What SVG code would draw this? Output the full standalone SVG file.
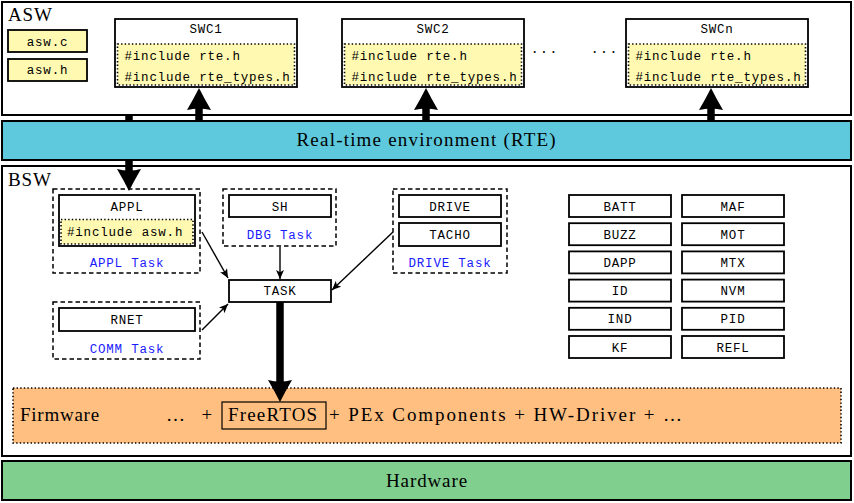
<svg xmlns="http://www.w3.org/2000/svg" width="854" height="503" viewBox="0 0 854 503">
<style>
.layer{stroke:#000;stroke-width:2}
.box{fill:#fff;stroke:#000;stroke-width:1.8}
.file{fill:#fff9b2;stroke:#000;stroke-width:1.8}
.dot{fill:#fff9b2;stroke:#000;stroke-width:1.6;stroke-dasharray:1.4 2.2}
.dash{fill:none;stroke:#000;stroke-width:1.5;stroke-dasharray:4.5 3}
.mono{font-family:"Liberation Mono","DejaVu Sans Mono",monospace;font-size:12.5px;letter-spacing:0.8px;fill:#000}
.mid{text-anchor:middle}
.task{fill:#1a1aff}
.serif{font-family:"Liberation Serif","DejaVu Serif",serif;font-size:19px;letter-spacing:0.9px;fill:#000}
.big{stroke:#000;stroke-width:7.5;fill:none}
.thin{stroke:#000;stroke-width:1.4;fill:none}
</style>
<defs>
<marker id="bighead" markerUnits="userSpaceOnUse" viewBox="0 0 22 24" markerWidth="22" markerHeight="24" refX="4" refY="12" orient="auto">
<path d="M0,0 Q12,7 22,12 Q12,17 0,24 Q3,12 0,0 Z" fill="#000"/>
</marker>
<marker id="smallhead" markerUnits="userSpaceOnUse" viewBox="0 0 9 8" markerWidth="9" markerHeight="8" refX="9" refY="4" orient="auto">
<path d="M0,0 L9,4 L0,8 L2.2,4 Z" fill="#000"/>
</marker>
</defs>

<g id="asw">
<rect class="layer" x="2" y="2" width="849" height="113" fill="#fff"/>
<text class="serif" x="8" y="21">ASW</text>
</g>
<g id="asw-c">
<rect class="file" x="8" y="30" width="79" height="22"/>
<text class="mono mid" x="47.5" y="46">asw.c</text>
</g>
<g id="asw-h">
<rect class="file" x="8" y="59" width="79" height="22"/>
<text class="mono mid" x="47.5" y="74">asw.h</text>
</g>
<g id="swc1">
<rect class="box" x="115" y="19" width="182" height="68"/>
<text class="mono mid" x="206" y="33">SWC1</text>
<rect class="dot" x="117.5" y="44" width="177" height="41"/>
<text class="mono" x="124.5" y="59.5">#include rte.h</text>
<text class="mono" x="124.5" y="81">#include rte_types.h</text>
</g>
<g id="swc2">
<rect class="box" x="342" y="19" width="182" height="68"/>
<text class="mono mid" x="433" y="33">SWC2</text>
<rect class="dot" x="344.5" y="44" width="177" height="41"/>
<text class="mono" x="351.5" y="59.5">#include rte.h</text>
<text class="mono" x="351.5" y="81">#include rte_types.h</text>
</g>
<text class="serif" x="532" y="58" style="font-size:16px;letter-spacing:0">· · ·</text>
<text class="serif" x="592" y="58" style="font-size:16px;letter-spacing:0">· · ·</text>
<g id="swcn">
<rect class="box" x="626" y="19" width="182" height="68"/>
<text class="mono mid" x="717" y="33">SWCn</text>
<rect class="dot" x="628.5" y="44" width="177" height="41"/>
<text class="mono" x="635.5" y="59.5">#include rte.h</text>
<text class="mono" x="635.5" y="81">#include rte_types.h</text>
</g>

<g id="bsw">
<rect class="layer" x="2" y="166" width="849" height="290" fill="#fff"/>
<text class="serif" x="8" y="186">BSW</text>
</g>

<g id="appl-task">
<rect class="dash" x="53" y="189" width="147" height="84"/>
<rect class="box" x="59" y="195" width="136" height="51"/>
<text class="mono mid" x="127" y="211">APPL</text>
<rect class="dot" x="61" y="219.5" width="132" height="24.5"/>
<text class="mono" x="67" y="236">#include asw.h</text>
<text class="mono mid task" x="127" y="267">APPL Task</text>
</g>
<g id="dbg-task">
<rect class="dash" x="223" y="189" width="113" height="57"/>
<rect class="box" x="229" y="195" width="102" height="22"/>
<text class="mono mid" x="280" y="211">SH</text>
<text class="mono mid task" x="280" y="239">DBG Task</text>
</g>
<g id="drive-task">
<rect class="dash" x="393" y="189" width="114" height="84"/>
<rect class="box" x="399" y="195" width="102" height="22"/>
<text class="mono mid" x="450" y="211">DRIVE</text>
<rect class="box" x="399" y="223" width="102" height="23"/>
<text class="mono mid" x="450" y="239">TACHO</text>
<text class="mono mid task" x="450" y="267">DRIVE Task</text>
</g>
<g id="comm-task">
<rect class="dash" x="53" y="302" width="147" height="57"/>
<rect class="box" x="59" y="308" width="136" height="23"/>
<text class="mono mid" x="127" y="324">RNET</text>
<text class="mono mid task" x="127" y="353">COMM Task</text>
</g>
<g id="task">
<rect class="box" x="229" y="280" width="102" height="22"/>
<text class="mono mid" x="280" y="295">TASK</text>
</g>

<g id="modules">
<g id="batt"><rect class="box" x="569" y="195" width="102" height="22"/><text class="mono mid" x="620" y="210.5">BATT</text></g>
<g id="buzz"><rect class="box" x="569" y="223.2" width="102" height="22"/><text class="mono mid" x="620" y="238.7">BUZZ</text></g>
<g id="dapp"><rect class="box" x="569" y="251.4" width="102" height="22"/><text class="mono mid" x="620" y="266.9">DAPP</text></g>
<g id="id"><rect class="box" x="569" y="279.6" width="102" height="22"/><text class="mono mid" x="620" y="295.1">ID</text></g>
<g id="ind"><rect class="box" x="569" y="307.8" width="102" height="22"/><text class="mono mid" x="620" y="323.3">IND</text></g>
<g id="kf"><rect class="box" x="569" y="336" width="102" height="22"/><text class="mono mid" x="620" y="351.5">KF</text></g>
<g id="maf"><rect class="box" x="682" y="195" width="102" height="22"/><text class="mono mid" x="733" y="210.5">MAF</text></g>
<g id="mot"><rect class="box" x="682" y="223.2" width="102" height="22"/><text class="mono mid" x="733" y="238.7">MOT</text></g>
<g id="mtx"><rect class="box" x="682" y="251.4" width="102" height="22"/><text class="mono mid" x="733" y="266.9">MTX</text></g>
<g id="nvm"><rect class="box" x="682" y="279.6" width="102" height="22"/><text class="mono mid" x="733" y="295.1">NVM</text></g>
<g id="pid"><rect class="box" x="682" y="307.8" width="102" height="22"/><text class="mono mid" x="733" y="323.3">PID</text></g>
<g id="refl"><rect class="box" x="682" y="336" width="102" height="22"/><text class="mono mid" x="733" y="351.5">REFL</text></g>
</g>

<g id="firmware">
<rect x="13" y="388" width="828" height="55" fill="#ffbf80" stroke="#000" stroke-width="1.6" stroke-dasharray="1.4 2.2"/>
<text class="serif" x="20" y="421" textLength="80" lengthAdjust="spacing">Firmware</text>
<text class="serif" x="166" y="421" textLength="47" lengthAdjust="spacing">… +</text>
<g id="freertos">
<rect x="222" y="402" width="104" height="27" fill="none" stroke="#000" stroke-width="1.2"/>
<text class="serif" x="228" y="421" textLength="90" lengthAdjust="spacing">FreeRTOS</text>
</g>
<text class="serif" x="329" y="421" textLength="354" lengthAdjust="spacing">+ PEx Components + HW-Driver + …</text>
</g>

<g id="connectors">
<line class="big" x1="199" y1="121" x2="199" y2="106" marker-end="url(#bighead)"/>
<line class="big" x1="426" y1="121" x2="426" y2="106" marker-end="url(#bighead)"/>
<line class="big" x1="711" y1="121" x2="711" y2="106" marker-end="url(#bighead)"/>
<line class="big" x1="129" y1="116" x2="129" y2="173" marker-end="url(#bighead)"/>
<line class="big" x1="280" y1="302" x2="280" y2="384" marker-end="url(#bighead)"/>
<line class="thin" x1="202" y1="232" x2="228" y2="278" marker-end="url(#smallhead)"/>
<line class="thin" x1="280" y1="247" x2="280" y2="279" marker-end="url(#smallhead)"/>
<line class="thin" x1="393" y1="232" x2="332" y2="290" marker-end="url(#smallhead)"/>
<line class="thin" x1="202" y1="330" x2="228" y2="304" marker-end="url(#smallhead)"/>
</g>

<g id="rte">
<rect class="layer" x="2" y="121" width="849" height="39" fill="#5ec9dc"/>
<text class="serif mid" x="426.5" y="146" textLength="260" lengthAdjust="spacing">Real-time environment (RTE)</text>
</g>
<g id="hardware">
<rect class="layer" x="2" y="461" width="849" height="39" fill="#80cf8f"/>
<text class="serif mid" x="427" y="487" textLength="82" lengthAdjust="spacing">Hardware</text>
</g>
</svg>
